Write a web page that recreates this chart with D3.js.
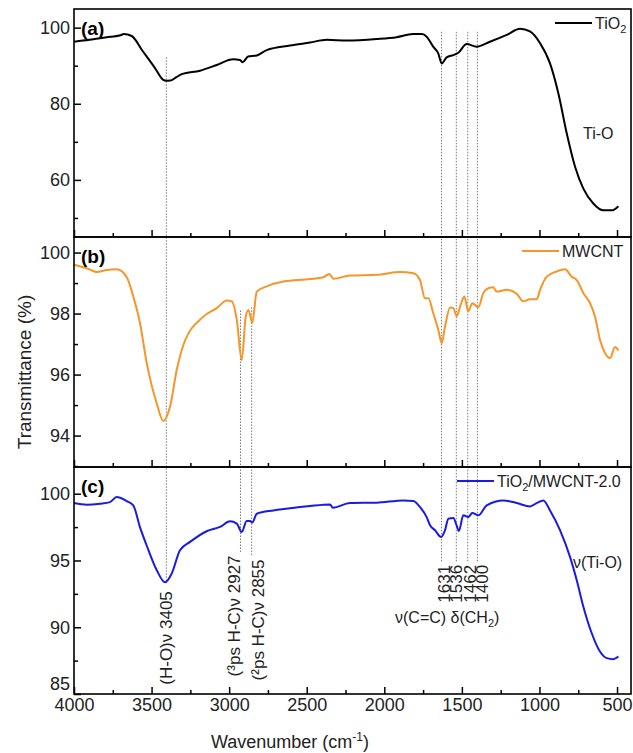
<!DOCTYPE html>
<html>
<head>
<meta charset="utf-8">
<script src="https://cdn.jsdelivr.net/npm/d3@7"></script>
<style>
  body { margin: 0; background: #fff; }
  svg { display: block; font-family: "Liberation Sans", Arial, sans-serif; }
  .axis text { font-size: 18px; fill: #222; }
  .axis line { stroke: #000; stroke-width: 1.5; }
  .axis path { display: none; }
</style>
</head>
<body>
<svg id="chart" width="633" height="753"></svg>
<script>
// ---- data ----
var tio2Wn = [4000, 3900, 3768, 3700, 3680, 3628, 3560, 3480, 3425, 3405, 3380, 3340, 3306, 3188, 3080, 2974, 2930, 2913, 2878, 2822, 2758, 2608, 2479, 2371, 2242, 2049, 1920, 1815, 1757, 1727, 1685, 1653, 1630, 1598, 1555, 1523, 1469, 1405, 1319, 1211, 1125, 1061, 996, 932, 878, 824, 770, 717, 653, 588, 534, 491];
var tio2T  = [96.3, 96.8, 97.6, 98.0, 98.3, 97.8, 94.0, 89.5, 86.3, 86.05, 86.1, 87.0, 87.8, 88.7, 90.2, 91.7, 91.5, 90.9, 92.4, 92.7, 94.1, 95.3, 96.1, 96.8, 96.6, 97.0, 97.5, 98.3, 98.3, 97.6, 95.0, 93.3, 90.6, 92.2, 92.8, 93.4, 95.7, 95.0, 96.3, 98.1, 99.7, 99.0, 95.9, 90.6, 82.7, 72.2, 63.4, 57.7, 53.8, 52.0, 52.0, 53.1];

var mwcntWn = [4000, 3900, 3854, 3790, 3725, 3661, 3618, 3575, 3532, 3467, 3424, 3381, 3338, 3295, 3166, 3080, 3015, 2983, 2951, 2919, 2893, 2876, 2851, 2822, 2758, 2651, 2479, 2393, 2354, 2328, 2221, 2049, 1899, 1813, 1770, 1738, 1716, 1684, 1652, 1630, 1609, 1576, 1555, 1534, 1508, 1484, 1459, 1433, 1394, 1362, 1330, 1297, 1276, 1211, 1147, 1104, 1061, 1018, 996, 953, 889, 835, 792, 760, 717, 674, 642, 610, 577, 545, 513, 491];
var mwcntT  = [99.6, 99.45, 99.36, 99.43, 99.45, 99.2, 98.56, 97.7, 96.4, 95.06, 94.48, 94.95, 96.15, 96.97, 97.9, 98.18, 98.43, 98.4, 97.8, 96.48, 97.9, 98.12, 97.7, 98.72, 98.89, 99.05, 99.13, 99.19, 99.3, 99.14, 99.25, 99.27, 99.36, 99.32, 99.1, 98.5, 98.5, 98.0, 97.47, 97.03, 97.57, 98.2, 98.18, 97.92, 98.29, 98.56, 98.07, 98.34, 98.21, 98.67, 98.83, 98.86, 98.72, 98.78, 98.65, 98.4, 98.47, 98.47, 98.78, 99.21, 99.38, 99.45, 99.21, 99.1, 98.67, 98.34, 97.9, 97.14, 96.7, 96.54, 96.9, 96.79];

var compWn = [4000, 3918, 3832, 3768, 3725, 3661, 3618, 3575, 3532, 3467, 3413, 3370, 3317, 3252, 3145, 3059, 2994, 2951, 2919, 2887, 2866, 2851, 2822, 2715, 2543, 2479, 2350, 2332, 2221, 2049, 1877, 1813, 1770, 1727, 1705, 1673, 1634, 1609, 1587, 1555, 1534, 1519, 1491, 1459, 1433, 1394, 1340, 1233, 1147, 1061, 1018, 975, 932, 867, 803, 760, 717, 663, 610, 567, 524, 491];
var compT  = [99.3, 99.18, 99.25, 99.37, 99.75, 99.45, 99.13, 97.5, 96.14, 94.28, 93.36, 94.03, 95.77, 96.39, 97.19, 97.51, 97.93, 97.76, 97.13, 97.95, 97.95, 97.84, 98.5, 98.75, 99.0, 99.08, 99.2, 98.95, 99.3, 99.33, 99.5, 99.45, 99.0, 98.25, 97.63, 97.26, 96.76, 97.26, 98.13, 98.18, 97.63, 97.21, 98.38, 98.25, 98.55, 98.38, 99.13, 99.5, 99.3, 99.05, 99.3, 99.5, 98.75, 97.26, 95.27, 93.53, 91.54, 89.55, 88.18, 87.69, 87.61, 87.81];

var xMajor = [4000, 3500, 3000, 2500, 2000, 1500, 1000, 500];
var xMinor = [3750, 3250, 2750, 2250, 1750, 1250, 750];
var aMajor = [60, 80, 100], aMinor = [50, 70, 90];
var bMajor = [94, 96, 98, 100], bMinor = [93, 95, 97, 99];
var cMajor = [85, 90, 95, 100], cMinor = [87.5, 92.5, 97.5];

var seriesNames = ["TiO2", "MWCNT", "TiO2/MWCNT-2.0"];
var panelTags = ["(a)", "(b)", "(c)"];

// dotted guide lines: wavenumber, start (panel, value), end value in panel (c)
var peakWn    = [3405, 2927, 2855, 1631, 1536, 1462, 1400];
var peakFrom  = [["a", 92.2], ["b", 98.1], ["b", 98.2], ["a", 98.9], ["a", 98.9], ["a", 98.9], ["a", 98.9]];
var peakTo    = [93.3, 95.6, 95.3, 94.9, 94.9, 94.9, 94.9];
var peakLabel = ["(H-O)\u03bd 3405", "(\u00b3ps H-C)\u03bd 2927", "(\u00b2ps H-C)\u03bd 2855", "1631", "1536", "1462", "1400"];

// ---- layout ----
var svg = d3.select("#chart");
var x = d3.scaleLinear().domain([4000, 410]).range([74, 631]);

var panels = [
  { id: "a", top: 9,   bottom: 237, domain: [45, 104.9],    major: aMajor, minor: aMinor, wn: tio2Wn,  t: tio2T,  color: "#000000" },
  { id: "b", top: 237, bottom: 467, domain: [92.97, 100.51], major: bMajor, minor: bMinor, wn: mwcntWn, t: mwcntT, color: "#f5952a" },
  { id: "c", top: 467, bottom: 694, domain: [85, 102],      major: cMajor, minor: cMinor, wn: compWn,  t: compT,  color: "#1a1ae0" }
];
panels.forEach(function(p) {
  p.y = d3.scaleLinear().domain(p.domain).range([p.bottom, p.top]);
});
var byId = {};
panels.forEach(function(p) { byId[p.id] = p; });

// dotted guides first, under the curves
var guides = svg.append("g");
peakWn.forEach(function(w, i) {
  var from = byId[peakFrom[i][0]];
  guides.append("line")
    .attr("x1", x(w)).attr("x2", x(w))
    .attr("y1", from.y(peakFrom[i][1]))
    .attr("y2", byId.c.y(peakTo[i]))
    .attr("stroke", "#777").attr("stroke-width", 1)
    .attr("stroke-dasharray", "1.5,1.5");
});

panels.forEach(function(p, k) {
  var g = svg.append("g");

  var line = d3.line()
    .x(function(d) { return x(d[0]); })
    .y(function(d) { return p.y(d[1]); })
    .curve(d3.curveMonotoneX);
  var pts = p.wn.map(function(w, i) { return [w, p.t[i]]; });
  g.append("path").datum(pts)
    .attr("d", line)
    .attr("fill", "none")
    .attr("stroke", p.color)
    .attr("stroke-width", 2)
    .attr("stroke-linejoin", "round");

  // y axis, ticks inward
  var ya = g.append("g").attr("class", "axis")
    .attr("transform", "translate(74,0)")
    .call(d3.axisLeft(p.y).tickValues(p.major).tickSize(-7).tickPadding(4).tickFormat(d3.format("d")));
  // lowest label of the last panel sits a bit higher, clear of the x labels
  if (p.id === "c") {
    ya.selectAll(".tick").filter(function(d) { return d === 85; })
      .select("text").attr("y", -10);
  }
  g.append("g").attr("class", "axis")
    .attr("transform", "translate(74,0)")
    .call(d3.axisLeft(p.y).tickValues(p.minor).tickSize(-4).tickFormat(""));

  // x ticks along the bottom of each panel
  var xa = g.append("g").attr("class", "axis")
    .attr("transform", "translate(0," + p.bottom + ")")
    .call(d3.axisBottom(x).tickValues(xMajor).tickSize(-7).tickPadding(4).tickFormat(d3.format("d")));
  if (p.id !== "c") xa.selectAll("text").remove();
  g.append("g").attr("class", "axis")
    .attr("transform", "translate(0," + p.bottom + ")")
    .call(d3.axisBottom(x).tickValues(xMinor).tickSize(-4).tickFormat(""));

  // frame
  g.append("rect")
    .attr("x", 74).attr("y", p.top)
    .attr("width", 631 - 74).attr("height", p.bottom - p.top)
    .attr("fill", "none").attr("stroke", "#000").attr("stroke-width", 1.6);

  g.append("text")
    .attr("x", 81).attr("y", p.top + 26)
    .attr("font-size", 19).attr("font-weight", "bold")
    .text(panelTags[k]);
});

// legends
function legend(p, x0, name, sub) {
  var yl = p.top + 14;
  svg.append("line").attr("x1", x0).attr("x2", x0 + 37)
    .attr("y1", yl).attr("y2", yl)
    .attr("stroke", p.color).attr("stroke-width", 2);
  var t = svg.append("text").attr("x", x0 + 40).attr("y", yl + 6)
    .attr("font-size", 16).attr("fill", "#222");
  if (sub) {
    t.append("tspan").text("TiO");
    t.append("tspan").attr("font-size", 11).attr("dy", 4).text("2");
    t.append("tspan").attr("dy", -4).text(name.slice(4));
  } else {
    t.text(name);
  }
}
legend(byId.a, 555, seriesNames[0], true);
legend(byId.b, 522, seriesNames[1], false);
legend(byId.c, 457, seriesNames[2], true);

// peak labels (rotated, reading upward)
peakWn.forEach(function(w, i) {
  var dx = [0, -6, 7, 2.5, 0.7, 2.3, 5.6][i];
  var y0 = byId.c.y(peakTo[i]) + (i === 0 ? 8 : 3);
  svg.append("text")
    .attr("transform", "translate(" + (x(w) + dx) + "," + y0 + ") rotate(-90)")
    .attr("text-anchor", "end")
    .attr("dominant-baseline", "central")
    .attr("font-size", 17).attr("fill", "#222")
    .text(peakLabel[i]);
});

// band annotations
svg.append("text").attr("x", 583).attr("y", 139)
  .attr("font-size", 16).attr("fill", "#222").text("Ti-O");
svg.append("text").attr("x", 573).attr("y", 568)
  .attr("font-size", 16).attr("fill", "#222").text("\u03bd(Ti-O)");
var cc = svg.append("text").attr("x", 395).attr("y", 623)
  .attr("font-size", 16).attr("fill", "#222");
cc.append("tspan").text("\u03bd(C=C) \u03b4(CH");
cc.append("tspan").attr("font-size", 11).attr("dy", 4).text("2");
cc.append("tspan").attr("dy", -4).text(")");

// axis titles
svg.append("text")
  .attr("transform", "translate(24,372) rotate(-90)")
  .attr("text-anchor", "middle").attr("dominant-baseline", "central")
  .attr("font-size", 19).attr("fill", "#222")
  .text("Transmittance (%)");
var xt = svg.append("text").attr("x", 290).attr("y", 748)
  .attr("text-anchor", "middle").attr("font-size", 18).attr("fill", "#222");
xt.append("tspan").text("Wavenumber (cm");
xt.append("tspan").attr("font-size", 12).attr("dy", -7).text("-1");
xt.append("tspan").attr("dy", 7).text(")");
</script>
</body>
</html>
